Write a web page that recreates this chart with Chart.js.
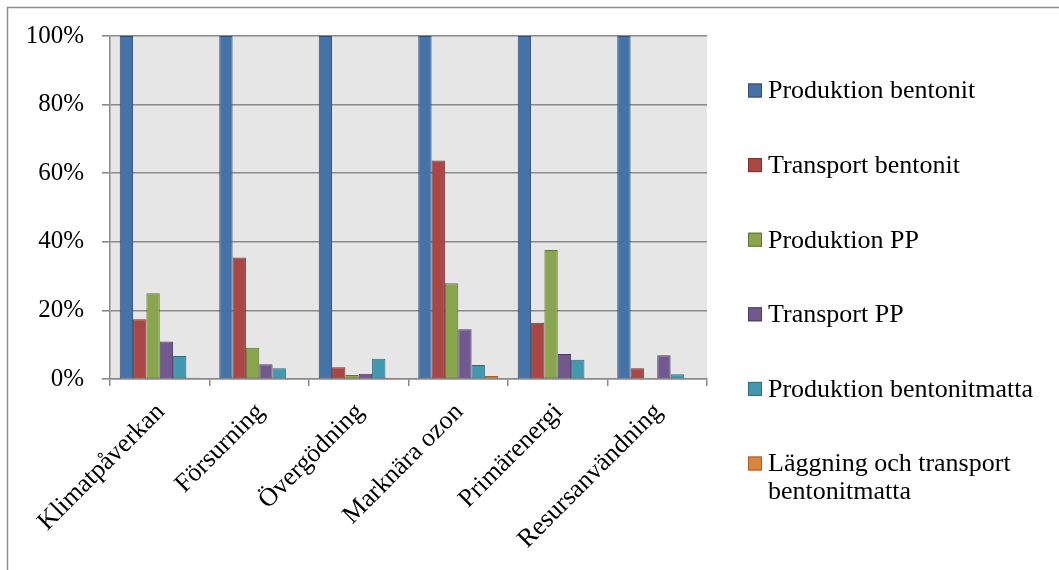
<!DOCTYPE html>
<html>
<head>
<meta charset="utf-8">
<script src="https://cdn.jsdelivr.net/npm/chart.js@4/dist/chart.umd.min.js"></script>
<style>
  html, body { margin: 0; padding: 0; background: #ffffff; }
  #wrap { position: relative; width: 1059px; height: 570px; }
</style>
</head>
<body>
<div id="wrap"><canvas id="c" width="1059" height="570"></canvas></div>
<script>
// Impact categories (x axis)
const categories = ['Klimatpåverkan', 'Försurning', 'Övergödning', 'Marknära ozon', 'Primärenergi', 'Resursanvändning'];

// Share of each life-cycle step per category, in percent
const produktionBentonit = [100, 100, 100, 100, 100, 100];
const transportBentonit = [17.4, 35.4, 3.4, 63.7, 16.4, 3.1];
const produktionPP = [25.0, 9.1, 1.2, 27.9, 37.6, 0.2];
const transportPP = [10.9, 4.3, 1.5, 14.5, 7.3, 6.9];
const produktionBentonitmatta = [6.7, 3.1, 5.9, 4.1, 5.6, 1.4];
const laggningTransport = [0.4, 0.3, 0.1, 0.9, 0.3, 0.2];

const seriesNames = ['Produktion bentonit', 'Transport bentonit', 'Produktion PP', 'Transport PP', 'Produktion bentonitmatta', 'Läggning och transport bentonitmatta'];
const yTicks = [0, 20, 40, 60, 80, 100];

const fills = ['#4572A7', '#AA4643', '#89A54E', '#71588F', '#4198AF', '#DB843D'];
const edges = ['#2F4E76', '#7A302E', '#5F7536', '#4F3D65', '#2C6C7D', '#A55F28'];

const FONT = "'Liberation Serif', 'Times New Roman', serif";
const GRID = '#8a8a8a';

const seriesValues = [produktionBentonit, transportBentonit, produktionPP, transportPP, produktionBentonitmatta, laggningTransport];

const datasets = seriesValues.map((vals, i) => ({
  label: seriesNames[i],
  data: vals,
  backgroundColor: fills[i],
  borderColor: edges[i],
  borderWidth: 1,
  borderSkipped: false,
  categoryPercentage: 0.804,
  barPercentage: 1.0
}));

// Frame, plot background
const backdrop = {
  id: 'backdrop',
  beforeDraw(chart) {
    const { ctx, chartArea: a } = chart;
    ctx.save();
    ctx.fillStyle = '#ffffff';
    ctx.fillRect(0, 0, chart.width, chart.height);
    ctx.strokeStyle = '#8e8e8e';
    ctx.lineWidth = 1.5;
    ctx.strokeRect(7.5, 7.5, chart.width + 20, chart.height + 20);
    ctx.fillStyle = '#e6e6e6';
    ctx.fillRect(a.left, a.top, a.right - a.left, a.bottom - a.top);
    ctx.restore();
  }
};

// Legend on the right, one entry per series, long names wrapped
const sideLegend = {
  id: 'sideLegend',
  afterDraw(chart) {
    const { ctx } = chart;
    const boxX = 748, textX = 768, maxW = 285;
    const y0 = 90.5, step = 74.6, lineH = 28, box = 14;
    ctx.save();
    ctx.font = '26px ' + FONT;
    ctx.textBaseline = 'middle';
    ctx.textAlign = 'left';
    chart.data.datasets.forEach((ds, i) => {
      const y = y0 + i * step;
      ctx.fillStyle = ds.backgroundColor;
      ctx.fillRect(boxX, y - box / 2, box, box);
      ctx.strokeStyle = ds.borderColor;
      ctx.lineWidth = 1;
      ctx.strokeRect(boxX + 0.5, y - box / 2 + 0.5, box - 1, box - 1);
      // word wrap
      const words = ds.label.split(' ');
      const lines = [];
      let cur = '';
      words.forEach(w => {
        const t = cur ? cur + ' ' + w : w;
        if (ctx.measureText(t).width > maxW && cur) { lines.push(cur); cur = w; }
        else cur = t;
      });
      lines.push(cur);
      ctx.fillStyle = '#000000';
      lines.forEach((ln, k) => ctx.fillText(ln, textX, y + 1 + k * lineH));
    });
    ctx.restore();
  }
};

new Chart(document.getElementById('c'), {
  type: 'bar',
  data: { labels: categories, datasets },
  plugins: [backdrop, sideLegend],
  options: {
    responsive: false,
    animation: false,
    devicePixelRatio: 1,
    layout: { padding: { top: 36, right: 352, left: 0, bottom: 0 } },
    plugins: {
      legend: { display: false },
      tooltip: { enabled: false }
    },
    scales: {
      x: {
        afterFit(scale) { scale.height = 191; },
        grid: { drawOnChartArea: false, drawTicks: true, tickLength: 7, color: GRID, lineWidth: 1.5 },
        border: { color: GRID, width: 1.5 },
        ticks: {
          minRotation: 45, maxRotation: 45,
          autoSkip: false,
          padding: 11,
          labelOffset: 1,
          color: '#000000',
          font: { family: FONT, size: 26 }
        }
      },
      y: {
        min: 0, max: 100,
        afterFit(scale) { scale.width = 110; },
        afterBuildTicks(scale) { scale.ticks = yTicks.map(v => ({ value: v })); },
        grid: { color: GRID, lineWidth: 1.6, tickLength: 8 },
        border: { color: GRID, width: 1.5 },
        ticks: {
          padding: 18,
          color: '#000000',
          font: { family: FONT, size: 25 },
          callback: v => v + '%'
        }
      }
    }
  }
});
</script>
</body>
</html>
